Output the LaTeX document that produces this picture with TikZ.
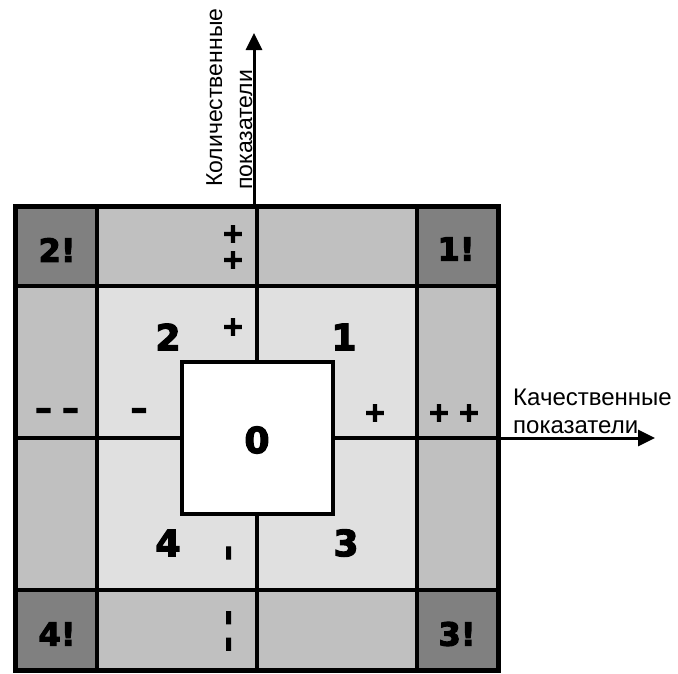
\documentclass[tikz,border=0pt]{standalone}
\usepackage{fontspec}
\setmainfont{Liberation Sans}
\newfontfamily\heavyfont{DejaVu Sans Bold}[FakeBold=3.5]
\usetikzlibrary{arrows.meta}
\definecolor{cornergray}{HTML}{808080}
\definecolor{edgegray}{HTML}{C0C0C0}
\definecolor{innergray}{HTML}{E0E0E0}
\tikzset{
  gridline/.style={line width=3.5pt},
  frameline/.style={line width=5pt},
  axisarrow/.style={line width=3pt,-{Triangle[length=17pt,width=16pt]}},
  bignum/.style={inner sep=0pt,font=\heavyfont\fontsize{36}{36}\selectfont},
  cornernum/.style={inner sep=0pt,font=\heavyfont\fontsize{32}{32}\selectfont},
  plussign/.style={inner sep=0pt,align=center,font=\heavyfont\fontsize{27}{26}\selectfont},
  minussign/.style={inner sep=0pt,font=\heavyfont\fontsize{33}{33}\selectfont},
  vminus/.style={inner sep=0pt,rotate=90,font=\heavyfont\fontsize{31}{31}\selectfont},
  axislabel/.style={inner sep=0pt,font=\fontsize{24}{28}\selectfont},
  vaxislabel/.style={inner sep=0pt,rotate=90,anchor=base west,font=\fontsize{23}{28}\selectfont},
}
\begin{document}
\begin{tikzpicture}[x=1pt,y=-1pt]
\useasboundingbox (0,0) rectangle (678,673);
% fills
\fill[edgegray] (15,206) rectangle (498,670);
\fill[innergray] (97,286) rectangle (417,590);
\fill[cornergray] (15,206) rectangle (97,286);
\fill[cornergray] (417,206) rectangle (498,286);
\fill[cornergray] (15,590) rectangle (97,670);
\fill[cornergray] (417,590) rectangle (498,670);
\fill[white] (182,362) rectangle (333,514);
% grid lines
\draw[gridline] (97,206) -- (97,670);
\draw[gridline] (417,206) -- (417,670);
\draw[gridline] (15,286) -- (498,286);
\draw[gridline] (15,590) -- (498,590);
\draw[gridline] (257,206) -- (257,362);
\draw[gridline] (257,514) -- (257,670);
\draw[gridline] (15,438) -- (182,438);
\draw[gridline] (333,438) -- (498,438);
\draw[gridline] (182,362) rectangle (333,514);
\draw[frameline] (15,206) rectangle (498,670);
% axes
\coordinate (vbase) at (254,204);
\coordinate (vtip) at (254,33);
\coordinate (hbase) at (500,438);
\coordinate (htip) at (655,438);
\draw[axisarrow] (vbase) -- (vtip);
\draw[axisarrow] (hbase) -- (htip);
\node[vaxislabel] (vlab1) at (222,187) {Количественные};
\node[vaxislabel] (vlab2) at (252,190) {показатели};
\node[axislabel,anchor=base west] (hlab1) at (513,405) {Качественные};
\node[axislabel,anchor=base west] (hlab2) at (513,433) {показатели};
% numbers
\node[cornernum] (c2) at (57,250) {2!};
\node[cornernum] (c1) at (456,249) {1!};
\node[cornernum] (c4) at (57,634) {4!};
\node[cornernum] (c3) at (457,634) {3!};
\node[bignum] (n2) at (168,337) {2};
\node[bignum] (n1) at (344,337) {1};
\node[bignum] (n4) at (168,543) {4};
\node[bignum] (n3) at (346,543) {3};
\node[bignum] (n0) at (257,440) {0};
% signs
\node[plussign] (pp) at (233,247) {+\\+};
\node[plussign] (p1) at (233,327) {+};
\node[plussign] (pr) at (375,413) {+};
\node[plussign] (prr) at (454,413) {+ \kern-2pt+};
\node[minussign] (ml) at (139,414) {–};
\node[minussign] (mll) at (57,414) {– \kern-1pt–};
\node[vminus] (mb) at (232,553) {–};
\node[vminus] (mbb) at (232,631) {– –};
\end{tikzpicture}
\end{document}
